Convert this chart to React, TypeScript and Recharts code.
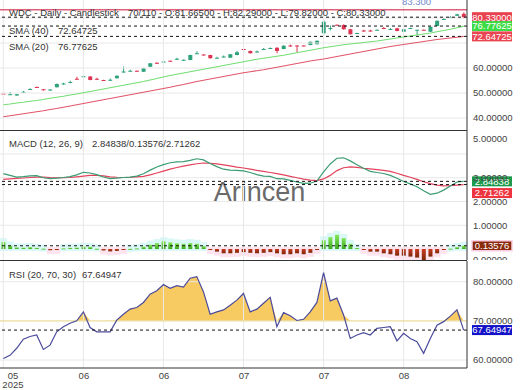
import React from 'react';
import { ComposedChart, Bar, Line, Area, XAxis, YAxis, ReferenceLine } from 'recharts';

const FONT = '"Liberation Sans", Arial, sans-serif';
const W = 520;
const AXIS_W = 53;
const GREEN = '#2fa27c';
const RED = '#dc3553';
const GRID = '#e8e8e8';

// daily candles, WDC
const opens = [49.8, 49.4, 49.0, 50.3, 51.3, 52.4, 51.5, 51.0, 52.3, 53.5, 54.2, 55.7, 56.4, 56.6, 55.7, 55.2, 54.9, 55.9, 58.2, 58.8, 58.9, 58.5, 60.5, 62.1, 62.4, 62.9, 63.5, 63.0, 63.2, 65.8, 65.4, 65.2, 64.0, 64.4, 64.1, 65.2, 67.6, 66.8, 66.4, 67.4, 67.7, 68.1, 67.6, 69.0, 69.0, 69.0, 69.2, 69.5, 73.9, 75.8, 77.3, 77.2, 75.5, 73.7, 75.0, 75.0, 75.1, 76.0, 75.4, 75.9, 74.5, 75.8, 75.2, 75.3, 74.5, 76.8, 79.4, 80.2, 80.9, 81.665];
const highs = [50.0, 50.4, 49.6, 50.8, 51.9, 52.6, 51.6, 51.5, 53.8, 54.1, 54.9, 56.5, 56.9, 56.8, 56.1, 55.3, 55.8, 57.0, 60.6, 59.3, 59.0, 60.1, 62.0, 62.3, 63.0, 63.0, 64.1, 63.4, 65.3, 66.7, 65.5, 65.3, 64.5, 65.0, 65.6, 66.8, 67.7, 67.0, 67.0, 68.0, 68.2, 68.3, 69.1, 69.4, 69.1, 69.1, 70.6, 71.0, 79.2, 77.0, 77.4, 77.5, 75.7, 74.1, 75.3, 75.3, 75.4, 76.4, 76.0, 76.1, 75.6, 76.1, 75.3, 75.4, 76.6, 79.0, 80.0, 80.7, 81.7, 82.29];
const lows = [49.2, 49.3, 48.9, 50.1, 51.2, 52.0, 51.0, 50.9, 52.2, 53.3, 53.9, 55.3, 56.3, 55.1, 55.2, 55.0, 54.8, 55.8, 58.1, 58.6, 58.6, 58.4, 60.4, 61.7, 62.1, 62.6, 63.2, 62.9, 63.1, 65.7, 65.0, 63.8, 63.9, 64.2, 64.0, 65.1, 67.3, 65.8, 66.1, 67.2, 67.6, 65.9, 67.5, 68.5, 66.3, 68.7, 69.1, 69.4, 73.2, 75.0, 77.0, 75.3, 73.4, 73.6, 74.5, 74.5, 75.0, 75.5, 75.2, 74.7, 74.4, 75.7, 73.2, 75.0, 74.4, 76.7, 79.2, 80.0, 80.8, 79.82];
const closes = [49.4, 49.5, 49.5, 50.5, 51.6, 52.1, 51.1, 51.4, 53.6, 53.8, 54.4, 55.5, 56.7, 55.2, 55.5, 55.1, 55.3, 56.9, 58.6, 58.9, 58.7, 59.9, 61.9, 61.8, 62.6, 62.7, 63.7, 63.3, 65.2, 65.9, 65.1, 63.9, 64.1, 64.6, 65.5, 66.3, 67.4, 65.9, 66.6, 67.6, 68.0, 66.8, 68.9, 68.8, 68.8, 68.8, 70.5, 70.9, 78.5, 76.0, 77.1, 75.5, 73.5, 74.0, 74.8, 74.8, 75.3, 75.8, 75.6, 74.8, 75.5, 76.0, 75.3, 75.1, 76.5, 78.9, 79.6, 80.4, 81.5, 80.33];
const sma20 = [45.3, 45.6, 46.0, 46.3, 46.7, 47.0, 47.4, 47.9, 48.3, 48.7, 49.2, 49.6, 50.1, 50.6, 51.1, 51.6, 52.1, 52.6, 53.1, 53.6, 54.1, 54.6, 55.2, 55.8, 56.4, 57.0, 57.5, 58.0, 58.5, 59.0, 59.5, 60.0, 60.5, 61.0, 61.5, 62.0, 62.5, 63.0, 63.5, 63.9, 64.3, 64.7, 65.1, 65.6, 66.1, 66.6, 67.1, 67.6, 68.1, 68.5, 68.9, 69.3, 69.6, 69.9, 70.2, 70.5, 70.8, 71.2, 71.6, 72.0, 72.4, 72.8, 73.2, 73.6, 74.0, 74.5, 75.0, 75.5, 76.1, 76.78];
const sma40 = [40.5, 40.9, 41.3, 41.7, 42.1, 42.5, 42.9, 43.4, 43.8, 44.3, 44.8, 45.3, 45.8, 46.3, 46.8, 47.3, 47.8, 48.3, 48.8, 49.3, 49.8, 50.3, 50.8, 51.3, 51.8, 52.3, 52.9, 53.4, 54.0, 54.6, 55.1, 55.6, 56.1, 56.6, 57.1, 57.6, 58.1, 58.5, 58.9, 59.3, 59.8, 60.3, 60.8, 61.3, 61.8, 62.3, 62.8, 63.2, 63.6, 64.1, 64.6, 65.1, 65.6, 66.1, 66.6, 67.1, 67.6, 68.1, 68.6, 69.0, 69.4, 69.8, 70.2, 70.6, 71.0, 71.4, 71.7, 72.0, 72.3, 72.65];

// MACD (12, 26, 9)
const macdLine = [3.17, 3.10, 3.03, 3.05, 3.08, 3.09, 3.00, 2.96, 2.98, 3.01, 3.05, 3.12, 3.23, 3.20, 3.13, 3.03, 2.96, 2.98, 3.01, 3.03, 3.07, 3.17, 3.32, 3.45, 3.55, 3.63, 3.67, 3.68, 3.73, 3.80, 3.75, 3.60, 3.47, 3.36, 3.32, 3.31, 3.29, 3.22, 3.13, 3.07, 3.06, 2.96, 2.95, 2.89, 2.82, 2.76, 2.77, 2.86, 3.25, 3.58, 3.82, 3.84, 3.71, 3.55, 3.40, 3.27, 3.22, 3.18, 3.10, 2.98, 2.84, 2.74, 2.62, 2.45, 2.30, 2.35, 2.48, 2.65, 2.82, 2.84838];
const signalLine = [2.93, 2.95, 2.97, 2.99, 3.01, 3.03, 3.03, 3.01, 3.00, 3.00, 3.01, 3.04, 3.07, 3.10, 3.10, 3.08, 3.04, 3.02, 3.01, 3.02, 3.04, 3.06, 3.12, 3.20, 3.28, 3.36, 3.43, 3.49, 3.54, 3.59, 3.62, 3.61, 3.58, 3.54, 3.50, 3.45, 3.41, 3.36, 3.31, 3.27, 3.22, 3.17, 3.12, 3.06, 3.00, 2.94, 2.90, 2.88, 2.95, 3.10, 3.30, 3.42, 3.46, 3.44, 3.40, 3.37, 3.34, 3.31, 3.27, 3.19, 3.10, 3.02, 2.93, 2.83, 2.75, 2.69, 2.66, 2.67, 2.69, 2.71262];
const histogram = [0.29, 0.15, 0.07, 0.06, 0.08, 0.05, 0.02, -0.05, -0.02, 0.03, 0.05, 0.06, 0.10, 0.09, 0.02, -0.06, -0.10, -0.08, -0.03, 0.01, 0.03, 0.10, 0.18, 0.25, 0.33, 0.28, 0.24, 0.22, 0.25, 0.22, 0.12, -0.02, -0.11, -0.18, -0.18, -0.16, -0.13, -0.16, -0.18, -0.16, -0.13, -0.18, -0.22, -0.22, -0.18, -0.22, -0.16, -0.03, 0.37, 0.50, 0.60, 0.46, 0.22, 0.04, -0.02, -0.11, -0.11, -0.18, -0.22, -0.28, -0.28, -0.32, -0.36, -0.49, -0.32, -0.18, -0.04, 0.02, 0.08, 0.13576];

// RSI (20, 70, 30)
const rsi = [60.4, 61.2, 63.0, 65.3, 66.0, 66.4, 62.7, 63.8, 67.2, 68.5, 69.4, 70.0, 72.3, 68.3, 67.2, 67.2, 67.2, 70.2, 71.7, 73.0, 73.4, 74.7, 76.8, 77.7, 79.3, 78.3, 79.0, 78.6, 80.9, 81.3, 77.4, 71.7, 72.3, 72.8, 74.0, 75.3, 77.0, 72.3, 73.0, 74.5, 76.0, 68.5, 72.1, 71.3, 70.1, 70.4, 72.3, 74.7, 82.3, 75.1, 75.8, 71.5, 65.5, 66.4, 67.0, 66.4, 68.1, 68.3, 68.5, 64.9, 66.8, 65.5, 64.7, 61.7, 65.5, 68.9, 69.8, 71.2, 72.8, 67.64947];

const tickIndexes = [0, 12, 24, 36, 48, 60];
const tickLabels = ['05', '06', '06', '07', '07', '08'];

const rows = opens.map((o, i) => ({
  i,
  open: o,
  high: highs[i],
  low: lows[i],
  close: closes[i],
  sma20: sma20[i],
  sma40: sma40[i],
  macd: macdLine[i],
  signal: signalLine[i],
  hist: histogram[i],
  rsi: rsi[i],
  rsiTop: Math.max(rsi[i], 70),
}));

function Candle(props: any) {
  const { x, y, width, height, payload } = props;
  const top = Math.min(y, y + height);
  const h = Math.abs(height);
  const { open, close, high, low } = payload;
  const ppu = high > low ? h / (high - low) : 0;
  const cx = x + width / 2;
  const yO = top + (high - open) * ppu;
  const yC = top + (high - close) * ppu;
  const color = close >= open ? GREEN : RED;
  const bTop = Math.min(yO, yC);
  const bH = Math.max(1, Math.abs(yO - yC));
  return (
    <g>
      <line x1={cx} x2={cx} y1={top} y2={top + h} stroke={color} strokeWidth={1} />
      <rect x={cx - 2} y={bTop} width={4} height={bH} fill={color} />
    </g>
  );
}

function HistBar(props: any) {
  const { x, y, width, height, payload } = props;
  const top = Math.min(y, y + height);
  const h = Math.max(1, Math.abs(height));
  const cx = x + width / 2;
  const up = payload.hist >= 0;
  return (
    <g>
      {up ? (
        <rect x={x} y={top - 4} width={width} height={h + 6} fill="#d9f8f7" />
      ) : (
        <rect x={x} y={top - 2} width={width} height={h + 6} fill="#fde4ef" />
      )}
      <rect x={cx - 2} y={top} width={4} height={h} fill={up ? 'url(#histUp)' : 'url(#histDown)'} />
    </g>
  );
}

function Tag(props: any) {
  const { viewBox, text, bg, dy = 0, border } = props;
  if (!viewBox) return null;
  const x = viewBox.x + viewBox.width + 5;
  const y = viewBox.y + dy;
  return (
    <g>
      <rect x={x} y={y - 5} width={40} height={10} fill={bg} stroke={border || 'none'} strokeWidth={1.5} />
      <text x={x + 20} y={y + 3.4} textAnchor="middle" fill="#fff" fontSize={9.5} fontFamily={FONT}>
        {text}
      </text>
    </g>
  );
}

function AxisTick(props: any) {
  const { x, y, payload, minY, maxY } = props;
  let ty = y;
  if (minY !== undefined) ty = Math.max(ty, minY);
  if (maxY !== undefined && payload.value === 0) ty = maxY;
  return (
    <text x={x} y={ty} dy={3.4} fill="#444" fontSize={9.5} fontFamily={FONT} textAnchor="start">
      {Number(payload.value).toFixed(5)}
    </text>
  );
}

function TimeTick(props: any) {
  const { x, y, payload } = props;
  const k = tickIndexes.indexOf(payload.value);
  if (k < 0) return null;
  const cx = k === 0 ? x + 9.6 : x + 0.5;
  return (
    <g>
      <text x={cx} y={y + 11} textAnchor="middle" fill="#444" fontSize={9.5} fontFamily={FONT}>
        {tickLabels[k]}
      </text>
      {k === 0 && (
        <text x={cx} y={y + 20} textAnchor="middle" fill="#444" fontSize={9.5} fontFamily={FONT}>
          2025
        </text>
      )}
    </g>
  );
}

const vGrid = tickIndexes.map((t) => <ReferenceLine key={'v' + t} x={t} stroke={GRID} />);
const hGrid = (vals: number[]) => vals.map((v) => <ReferenceLine key={'h' + v} y={v} stroke={GRID} />);

const txt = (top: number, left: number, s: string) => (
  <div
    style={{
      position: 'absolute',
      top,
      left,
      fontSize: 9.5,
      lineHeight: '11px',
      whiteSpace: 'pre',
      color: '#333',
      fontFamily: FONT,
    }}
  >
    {s}
  </div>
);

export default function App() {
  return (
    <div
      style={{
        position: 'absolute',
        left: 0,
        top: 0,
        width: W,
        height: 390,
        background: '#fff',
        overflow: 'hidden',
        fontFamily: FONT,
      }}
    >
      {/* watermark */}
      <div
        style={{
          position: 'absolute',
          top: 179,
          left: 0,
          width: 519,
          textAlign: 'center',
          fontSize: 27,
          lineHeight: '27px',
          color: '#6a6a6a',
          fontFamily: FONT,
        }}
      >
        Arincen
      </div>

      {/* price panel */}
      <div style={{ position: 'absolute', top: 0, left: 0 }}>
        <ComposedChart width={W} height={130} data={rows} margin={{ top: 0, right: 0, bottom: 0, left: 0 }} barCategoryGap={0}>
          <XAxis dataKey="i" hide scale="band" />
          <YAxis
            orientation="right"
            width={AXIS_W}
            domain={[35.2, 87.2]}
            allowDataOverflow
            ticks={[40, 50, 60]}
            tick={<AxisTick />}
            tickSize={0}
            tickMargin={6}
            tickLine={false}
            axisLine={{ stroke: '#333' }}
          />
          {vGrid}
          {hGrid([40, 50, 60, 70, 80])}
          <ReferenceLine y={83.3} stroke="#e0607a" strokeWidth={1.5} />
          <Line dataKey="sma40" stroke="#e2566a" strokeWidth={1.2} dot={false} activeDot={false} isAnimationActive={false} />
          <Line dataKey="sma20" stroke="#74de74" strokeWidth={1.2} dot={false} activeDot={false} isAnimationActive={false} />
          <Bar dataKey={(d: any) => [d.low, d.high]} shape={(p: any) => <Candle {...p} />} isAnimationActive={false} />
          <ReferenceLine y={80.33} stroke="#111" strokeDasharray="3 3" label={<Tag text="80.33000" bg="#e8424f" />} />
          <ReferenceLine y={76.77625} stroke="#111" strokeDasharray="3 3" label={<Tag text="76.77625" bg="#3ddc46" />} />
          <ReferenceLine y={72.64725} stroke="#111" strokeDasharray="3 3" label={<Tag text="72.64725" bg="#ea4553" />} />
        </ComposedChart>
      </div>

      {/* MACD panel */}
      <div style={{ position: 'absolute', top: 130, left: 0 }}>
        <ComposedChart width={W} height={130} data={rows} margin={{ top: 0, right: 0, bottom: 0, left: 0 }} barCategoryGap={0}>
          <defs>
            <linearGradient id="histUp" x1="0" y1="0" x2="0" y2="1">
              <stop offset="0%" stopColor="#86e65c" />
              <stop offset="100%" stopColor="#3aa81c" />
            </linearGradient>
            <linearGradient id="histDown" x1="0" y1="0" x2="0" y2="1">
              <stop offset="0%" stopColor="#c83a20" />
              <stop offset="100%" stopColor="#7a2808" />
            </linearGradient>
          </defs>
          <XAxis dataKey="i" hide scale="band" />
          <YAxis
            orientation="right"
            width={AXIS_W}
            domain={[-0.463, 5.01]}
            allowDataOverflow
            ticks={[0, 1, 2, 3, 4, 5]}
            tick={<AxisTick minY={9} maxY={130} />}
            tickSize={0}
            tickMargin={6}
            tickLine={false}
            axisLine={{ stroke: '#333' }}
          />
          {vGrid}
          {hGrid([1, 2, 3, 4])}
          <Bar dataKey="hist" shape={(p: any) => <HistBar {...p} />} isAnimationActive={false} />
          <ReferenceLine y={0.13576} stroke="#111" strokeDasharray="3 3" label={<Tag text="0.13576" bg="#8a2a0c" border="#fbd0e4" />} />
          <Line dataKey="signal" stroke="#e2445c" strokeWidth={1.2} dot={false} activeDot={false} isAnimationActive={false} />
          <Line dataKey="macd" stroke="#3a9c72" strokeWidth={1.2} dot={false} activeDot={false} isAnimationActive={false} />
          <ReferenceLine y={2.84838} stroke="#111" strokeDasharray="3 3" label={<Tag text="2.84838" bg="#1e9a4c" />} />
          <ReferenceLine y={2.71262} stroke="#111" strokeDasharray="3 3" label={<Tag text="2.71262" bg="#ee3440" dy={8.5} />} />
        </ComposedChart>
      </div>

      {/* RSI panel */}
      <div style={{ position: 'absolute', top: 260, left: 0 }}>
        <ComposedChart width={W} height={130} data={rows} margin={{ top: 1, right: 0, bottom: 0, left: 0 }}>
          <XAxis
            dataKey="i"
            scale="band"
            interval={11}
            height={22}
            tick={<TimeTick />}
            tickSize={0}
            tickMargin={0}
            tickLine={false}
            axisLine={{ stroke: '#333' }}
          />
          <YAxis
            orientation="right"
            width={AXIS_W}
            domain={[57.96, 85.29]}
            allowDataOverflow
            ticks={[60, 70, 80]}
            tick={<AxisTick />}
            tickSize={0}
            tickMargin={6}
            tickLine={false}
            axisLine={{ stroke: '#333' }}
          />
          {vGrid}
          {hGrid([60, 80])}
          <ReferenceLine y={70} stroke="#eadc9c" strokeWidth={1.2} />
          <Area
            dataKey="rsiTop"
            baseValue={70}
            type="linear"
            fill="#f7c75a"
            fillOpacity={0.95}
            stroke="none"
            activeDot={false}
            isAnimationActive={false}
          />
          <Line dataKey="rsi" type="linear" stroke="#4b4b9c" strokeWidth={1.2} dot={false} activeDot={false} isAnimationActive={false} />
          <ReferenceLine y={67.64947} stroke="#111" strokeDasharray="3 3" label={<Tag text="67.64947" bg="#1212c8" />} />
        </ComposedChart>
      </div>

      {/* panel separators */}
      <div style={{ position: 'absolute', top: 130, left: 0, width: 467, height: 1, background: '#333' }} />
      <div style={{ position: 'absolute', top: 260, left: 0, width: 467, height: 1, background: '#333' }} />

      {/* legends */}
      <div style={{ position: 'absolute', top: -4.5, left: 402, fontSize: 9.5, lineHeight: '11px', color: '#6f86cc' }}>83.300</div>
      {txt(7.2, 9, 'WDC - Daily - Candlestick')}
      {txt(7.2, 128, '70/110 - O:81.66500 - H:82.29000 - L:79.82000 - C:80.33000')}
      {txt(24.5, 9, 'SMA (40)')}
      {txt(24.5, 58, '72.64725')}
      {txt(41.2, 9, 'SMA (20)')}
      {txt(41.2, 58, '76.77625')}
      {txt(137.8, 9, 'MACD (12, 26, 9)')}
      {txt(137.8, 92, '2.84838/0.13576/2.71262')}
      {txt(268.5, 9, 'RSI (20, 70, 30)')}
      {txt(268.5, 82, '67.64947')}
    </div>
  );
}
